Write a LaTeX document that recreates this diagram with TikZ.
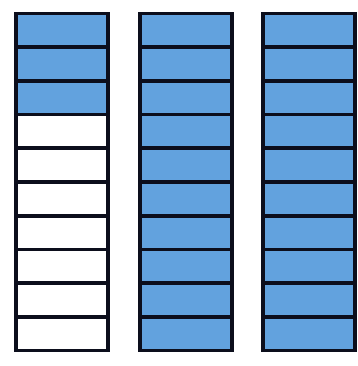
\documentclass[tikz,border=0pt]{standalone}
\usepackage{tikz}
\definecolor{cellblue}{RGB}{98,162,222}
\definecolor{edge}{RGB}{12,14,28}
\tikzset{
  cell/.style={draw=edge, line width=3.8pt, minimum width=92pt, minimum height=33.7pt, inner sep=0pt, outer sep=0pt},
  full/.style={cell, fill=cellblue},
  empty/.style={cell, fill=white}
}
\begin{document}
\begin{tikzpicture}[x=1pt,y=-1pt]
\useasboundingbox (0,0) rectangle (357,366);
\fill[white] (0,0) rectangle (357,366);
\foreach \i in {0,...,9}{
  \pgfmathsetmacro{\yy}{13.5+33.7*(\i+0.5)}
  \ifnum\i<3
    \node[full] (a\i) at (62,\yy) {};
  \else
    \node[empty] (a\i) at (62,\yy) {};
  \fi
  \node[full] (b\i) at (186,\yy) {};
  \node[full] (c\i) at (309,\yy) {};
}
\end{tikzpicture}
\end{document}
